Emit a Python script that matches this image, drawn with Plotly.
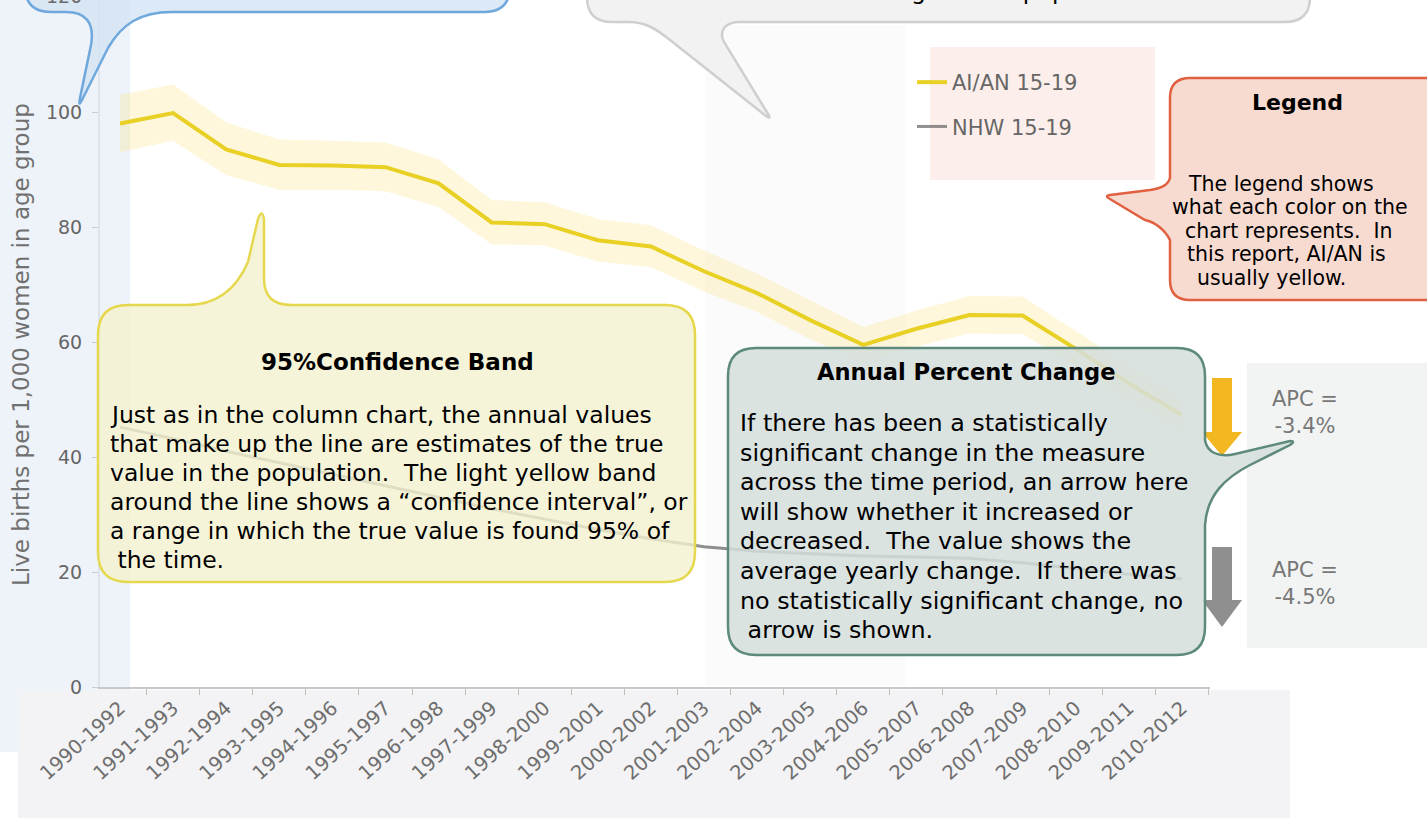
import plotly.graph_objects as go

# ---------------- data ----------------
periods = ["1990-1992", "1991-1993", "1992-1994", "1993-1995", "1994-1996", "1995-1997",
           "1996-1998", "1997-1999", "1998-2000", "1999-2001", "2000-2002", "2001-2003",
           "2002-2004", "2003-2005", "2004-2006", "2005-2007", "2006-2008", "2007-2009",
           "2008-2010", "2009-2011", "2010-2012"]
aian = [98.0, 99.8, 93.5, 90.8, 90.7, 90.4, 87.6, 80.8, 80.5, 77.7, 76.6, 72.3,
        68.5, 63.8, 59.5, 62.3, 64.7, 64.6, 58.8, 52.8, 47.3]
aian_lo = [93.0, 95.0, 89.0, 86.5, 86.5, 86.2, 83.5, 77.0, 76.8, 74.0, 73.0, 68.8,
           65.2, 60.5, 56.5, 59.2, 61.5, 61.4, 55.8, 49.8, 44.5]
aian_hi = [103.0, 104.8, 98.2, 95.2, 95.0, 94.7, 91.8, 84.7, 84.3, 81.4, 80.3, 75.9,
           71.9, 67.2, 62.6, 65.5, 68.0, 67.9, 61.9, 55.9, 50.2]
nhw = [45.2, 43.2, 41.0, 39.0, 37.0, 35.0, 33.0, 31.0, 29.2, 27.4, 25.8, 24.4,
       23.6, 23.2, 22.8, 22.6, 22.4, 21.6, 20.6, 19.6, 18.8]
y_ticks = [0, 20, 40, 60, 80, 100]
series_names = ["AI/AN 15-19", "NHW 15-19"]
apc_labels = ["APC =<br>-3.4%", "APC =<br>-4.5%"]

# ---------------- geometry helpers (pixel -> paper) ----------------
W, H = 1427, 818
X0, X1, Y0, Y1 = 100, 1210, 0, 687


def px(x):
    return (x - X0) / (X1 - X0)


def py(y):
    return (Y1 - y) / (Y1 - Y0)


def path(s):
    out, pend = [], None
    for t in s.split():
        if t[0].isalpha():
            out.append(t)
        elif pend is None:
            pend = float(t)
        else:
            out.append(f"{px(pend):.5f},{py(float(t)):.5f}")
            pend = None
    return " ".join(out)


FONT = "DejaVu Sans"

fig = go.Figure()
fig.add_trace(go.Scatter(x=periods, y=aian_hi, mode="lines", line=dict(width=0),
                         showlegend=False, hoverinfo="skip"))
fig.add_trace(go.Scatter(x=periods, y=aian_lo, mode="lines", line=dict(width=0),
                         fill="tonexty", fillcolor="rgba(250,228,125,0.28)",
                         showlegend=False, hoverinfo="skip"))
fig.add_trace(go.Scatter(x=periods, y=aian, mode="lines", name=series_names[0],
                         legendgroup="a", line=dict(color="#e8d024", width=4)))
fig.add_trace(go.Scatter(x=periods, y=nhw, mode="lines", name=series_names[1],
                         legendgroup="b", line=dict(color="rgba(115,115,115,0.8)", width=3)))

shapes = []
# faint background panels
for (x0, y0, x1, y1, c) in [
    (0, 0, 130, 752, "#eef3f9"),
    (18, 690, 1290, 818, "#f3f3f5"),
    (1247, 363, 1427, 648, "#f2f3f3"),
    (930, 47, 1155, 180, "#fcefeb"),
    (705, 25, 905, 686, "#fbfbfb"),
]:
    shapes.append(dict(type="rect", xref="paper", yref="paper", x0=px(x0), x1=px(x1),
                       y0=py(y1), y1=py(y0), fillcolor=c, line=dict(width=0), layer="below"))

# APC arrows
shapes.append(dict(type="path", xref="paper", yref="paper",
                   path=path("M 1212 378 L 1232 378 L 1232 432 L 1242 432 L 1222 456 L 1202 432 L 1212 432 Z"),
                   fillcolor="#f3b722", line=dict(width=0), layer="above"))
shapes.append(dict(type="path", xref="paper", yref="paper",
                   path=path("M 1212 547 L 1232 547 L 1232 600 L 1242 600 L 1222 627 L 1202 600 L 1212 600 Z"),
                   fillcolor="#8f8f8f", line=dict(width=0), layer="above"))

callouts = [
    # blue (top-left)
    ("M 25 -60 L 510 -60 L 510 -14 Q 510 12 484 12 L 172 12 C 140 12 122 24 108 48 "
     "L 82 100 Q 78 108 80 98 L 91 45 C 95 22 85 12 66 12 L 51 12 Q 25 12 25 -14 Z",
     "rgba(211,228,244,0.8)", "#6fa8dc"),
    # gray (top-middle)
    ("M 587 -60 L 1310 -60 L 1310 -3 Q 1310 22 1285 22 L 740 22 C 726 22 718 30 724 42 "
     "L 768 114 Q 772 120 766 116 L 670 40 C 655 28 645 22 628 22 L 612 22 Q 587 22 587 -3 Z",
     "rgba(240,240,240,0.85)", "#cfcfcf"),
    # yellow (confidence band)
    ("M 128 305 L 187 305 C 215 305 236 290 248 262 L 258 219 Q 262 208 264 219 L 264 278 "
     "C 264 296 272 305 292 305 L 665 305 Q 695 305 695 335 L 695 552 Q 695 582 665 582 "
     "L 128 582 Q 98 582 98 552 L 98 335 Q 98 305 128 305 Z",
     "rgba(244,241,206,0.8)", "#e6d84e"),
    # green-gray (APC)
    ("M 756 348 L 1177 348 Q 1205 348 1205 376 L 1205 440 C 1207 452 1218 458 1235 454 "
     "L 1290 441 Q 1296 441 1290 445 L 1250 465 C 1225 478 1207 495 1205 525 L 1205 627 "
     "Q 1205 655 1177 655 L 756 655 Q 728 655 728 627 L 728 376 Q 728 348 756 348 Z",
     "rgba(213,222,220,0.85)", "#5e8a7b"),
    # salmon (legend)
    ("M 1190 78 L 1460 78 L 1460 300 L 1190 300 Q 1170 300 1170 280 L 1170 240 "
     "C 1165 230 1155 222 1145 220 L 1110 199 Q 1104 196 1110 195 L 1150 190 "
     "C 1162 188 1168 185 1170 178 L 1170 98 Q 1170 78 1190 78 Z",
     "rgba(247,213,200,0.85)", "#e06040"),
]
for p, fc, lc in callouts:
    shapes.append(dict(type="path", xref="paper", yref="paper", path=path(p),
                       fillcolor=fc, line=dict(color=lc, width=2.5), layer="above"))

ann = []


def text(x, y, s, size=23, color="black", xanchor="left", bold=False, angle=0):
    ann.append(dict(xref="paper", yref="paper", x=px(x), y=py(y), text=f"<b>{s}</b>" if bold else s,
                    showarrow=False, xanchor=xanchor, yanchor="middle", textangle=angle,
                    font=dict(family=FONT, size=size, color=color)))


# partially hidden text of top callout (only descenders remain on screen)
text(1150, -9, "women of each age in the population", size=23.5, xanchor="right")
# y axis title and clipped 120 tick
text(21, 345, "Live births per 1,000 women in age group", size=23, color="#707070",
     xanchor="center", angle=-90)
text(84, -4, "120", size=19, color="#6a6a6a", xanchor="right")

# yellow callout
text(397, 362, "95%Confidence Band", size=23, xanchor="center", bold=True)
ylines = ["Just as in the column chart, the annual values",
          "that make up the line are estimates of the true",
          "value in the population.  The light yellow band",
          "around the line shows a \u201cconfidence interval\u201d, or",
          "a range in which the true value is found 95% of",
          "\u00a0the time."]
for i, s in enumerate(ylines):
    text(108, 415 + 29 * i, s, size=23.5)

# APC callout
text(966, 372, "Annual Percent Change", size=22.6, xanchor="center", bold=True)
alines = ["If there has been a statistically",
          "significant change in the measure",
          "across the time period, an arrow here",
          "will show whether it increased or",
          "decreased.  The value shows the",
          "average yearly change.  If there was",
          "no statistically significant change, no",
          "\u00a0arrow is shown."]
for i, s in enumerate(alines):
    text(738, 423 + 29.6 * i, s, size=23.8)

# legend callout
text(1297, 102, "Legend", size=22, xanchor="center", bold=True)
llines = [(1186, "The legend shows"), (1170, "what each color on the"),
          (1183, "chart represents.  In"), (1185, "this report, AI/AN is"),
          (1195, "usually yellow.")]
for i, (x, s) in enumerate(llines):
    text(x, 184 + 23.5 * i, s, size=20.5)

# APC values
text(1305, 412, apc_labels[0], size=21, color="#777777", xanchor="center")
text(1305, 583, apc_labels[1], size=21, color="#777777", xanchor="center")

fig.update_layout(
    width=W, height=H, autosize=False,
    margin=dict(l=X0, r=W - X1, t=Y0, b=H - Y1, pad=0),
    paper_bgcolor="white", plot_bgcolor="rgba(0,0,0,0)",
    font=dict(family=FONT),
    shapes=shapes, annotations=ann,
    showlegend=True,
    legend=dict(x=px(912), y=py(62), xanchor="left", yanchor="top",
                bgcolor="rgba(0,0,0,0)", traceorder="grouped", tracegroupgap=14,
                font=dict(family=FONT, size=21, color="#666666")),
    xaxis=dict(type="category", range=[-0.377, 20.53], tickson="boundaries",
               ticks="outside", ticklen=6, tickcolor="#c0c0c0", showline=True,
               linecolor="#c8c8c8", linewidth=2, tickangle=-42, showgrid=False,
               zeroline=False, tickfont=dict(family=FONT, size=19.5, color="#6e6e6e")),
    yaxis=dict(range=[0, 687 / 5.75], tickvals=y_ticks, ticks="outside", ticklen=6,
               tickcolor="#cccccc", showline=True, linecolor="#dde3ea", linewidth=2,
               showgrid=False, zeroline=False, ticklabelstandoff=6,
               tickfont=dict(family=FONT, size=19, color="#666666")),
)

fig.write_html("out.html", config={"displayModeBar": False},
               post_script="document.body.style.margin='0';")
